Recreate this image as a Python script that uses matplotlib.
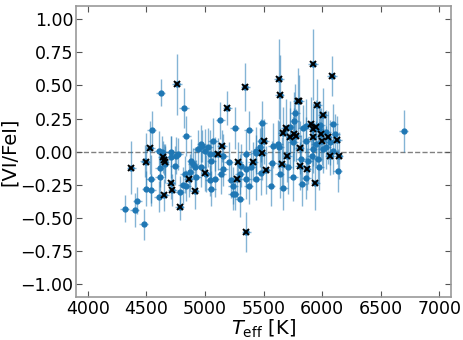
import numpy as np
import matplotlib
matplotlib.use('Agg')
import matplotlib.pyplot as plt

# stars without flag: Teff, [VI/FeI], error
teff_all = [4315, 4400, 4423, 4477, 4500, 4543, 4537, 4545, 4486, 4605,
            4614, 4614, 4608, 4622, 4636, 4656, 4707, 4713, 4741, 4750,
            4770, 4784, 4812, 4821, 4826, 4841, 4841, 4869, 4883, 4898,
            4912, 4926, 4940, 4969, 4969, 4975, 4997, 5011, 5026, 5040,
            5040, 5054, 5054, 5068, 5082, 5082, 5130, 5139, 5153, 5153,
            5201, 5224, 5239, 5239, 5253, 5253, 5296, 5296, 5310, 5352,
            5352, 5352, 5372, 5372, 5395, 5432, 5438, 5438, 5466, 5474,
            5480, 5489, 5560, 5574, 5579, 5622, 5631, 5637, 5670, 5707,
            5722, 5750, 5750, 5764, 5767, 5821, 5830, 5835, 5864, 5864,
            5864, 5878, 5914, 5920, 5949, 5963, 5977, 5977, 5986, 6005,
            6034, 6034, 6063, 6097, 6097, 6111, 6133, 6696]
vfe_all = [-0.43, -0.44, -0.37, -0.55, -0.28, -0.29, -0.205, 0.16, -0.07, -0.34,
           -0.19, -0.12, 0.008, 0.446, -0.005, -0.09, -0.005, -0.04, -0.105, -0.03,
           -0.02, -0.306, -0.255, 0.328, -0.17, 0.12, -0.256, -0.155, -0.068, -0.09,
           -0.118, -0.19, 0.02, 0.058, -0.118, 0.04, 0.008, -0.168, 0.032, -0.017,
           -0.218, -0.068, -0.28, 0.083, -0.017, -0.205, 0.238, -0.168, -0.03, -0.13,
           -0.08, -0.218, -0.256, -0.323, 0.178, -0.318, -0.356, -0.168, -0.105, -0.017,
           -0.205, -0.13, 0.16, -0.256, -0.118, -0.013, 0.008, -0.205, 0.032, -0.16,
           0.083, 0.22, -0.26, -0.083, 0.045, 0.058, 0.032, -0.168, -0.273, -0.118,
           0.183, 0.07, -0.193, 0.233, 0.29, -0.055, -0.243, 0.175, 0.083, 0.195,
           -0.2, -0.068, -0.03, 0.02, 0.058, -0.055, 0.17, -0.118, 0.2, 0.02,
           0.145, 0.032, 0.07, 0.208, 0.008, 0.133, -0.143, 0.158]
err_all = [0.10, 0.13, 0.10, 0.12, 0.13, 0.12, 0.18, 0.15, 0.12, 0.12,
           0.13, 0.15, 0.15, 0.10, 0.12, 0.15, 0.12, 0.16, 0.15, 0.14,
           0.12, 0.12, 0.14, 0.15, 0.14, 0.15, 0.12, 0.14, 0.16, 0.12,
           0.15, 0.13, 0.14, 0.14, 0.15, 0.12, 0.16, 0.14, 0.15, 0.18,
           0.12, 0.14, 0.13, 0.17, 0.13, 0.14, 0.14, 0.15, 0.16, 0.13,
           0.15, 0.13, 0.14, 0.12, 0.16, 0.12, 0.14, 0.15, 0.16, 0.17,
           0.15, 0.14, 0.15, 0.14, 0.13, 0.14, 0.18, 0.16, 0.15, 0.17,
           0.16, 0.16, 0.15, 0.16, 0.17, 0.18, 0.20, 0.18, 0.17, 0.20,
           0.20, 0.20, 0.18, 0.22, 0.22, 0.18, 0.17, 0.18, 0.18, 0.20,
           0.16, 0.18, 0.20, 0.18, 0.17, 0.18, 0.20, 0.17, 0.18, 0.18,
           0.17, 0.16, 0.17, 0.15, 0.18, 0.15, 0.16, 0.16]

# flagged stars (black crosses)
teff_flag = [4372, 4494, 4534, 4642, 4656, 4650, 4707, 4721, 4650, 4784,
             4761, 4863, 4912, 5003, 5113, 5145, 5190, 5284, 5273, 5344,
             5352, 5409, 5489, 5508, 5523, 5631, 5637, 5659, 5665, 5688,
             5702, 5730, 5781, 5790, 5805, 5807, 5807, 5869, 5906, 5920,
             5920, 5921, 5941, 5958, 5992, 5995, 6006, 6048, 6063, 6083,
             6128, 6142, 5760, 5945]
vfe_flag = [-0.12, -0.08, 0.03, -0.04, -0.08, -0.06, -0.24, -0.29, -0.33, -0.42,
            0.51, -0.21, -0.30, -0.16, -0.02, 0.045, 0.33, -0.075, -0.21, 0.49,
            -0.61, -0.075, -0.013, 0.077, -0.14, 0.55, 0.43, -0.09, 0.14, 0.175,
            -0.03, 0.11, 0.12, 0.38, 0.38, 0.028, -0.11, -0.13, 0.21, 0.17,
            0.11, 0.66, -0.24, 0.35, 0.13, 0.08, 0.28, 0.11, -0.03, 0.57,
            0.09, -0.03, 0.13, 0.19]
err_flag = [0.20, 0.22, 0.20, 0.12, 0.12, 0.12, 0.12, 0.12, 0.12, 0.10,
            0.23, 0.13, 0.13, 0.14, 0.12, 0.12, 0.13, 0.15, 0.14, 0.18,
            0.15, 0.15, 0.20, 0.17, 0.18, 0.30, 0.30, 0.20, 0.20, 0.22,
            0.20, 0.22, 0.20, 0.25, 0.20, 0.20, 0.18, 0.16, 0.20, 0.20,
            0.22, 0.27, 0.20, 0.20, 0.20, 0.18, 0.20, 0.20, 0.15, 0.15,
            0.18, 0.18, 0.20, 0.20]
teff_err = 40

fig = plt.figure(figsize=(4.64, 3.40), dpi=100)
ax = fig.add_axes([0.164, 0.126, 0.808, 0.856])

t = np.array(teff_all + teff_flag)
v = np.array(vfe_all + vfe_flag)
e = np.array(err_all + err_flag)

ax.errorbar(t, v, yerr=e, xerr=teff_err, fmt='none', ecolor='#1f77b4',
            alpha=0.55, elinewidth=1.0, zorder=2)
ax.plot(t, v, 'o', color='#1f77b4', ms=3.5, zorder=3)
ax.plot(teff_flag, vfe_flag, 'x', color='k', ms=5, mew=1.4, zorder=4)

ax.axhline(0, color='grey', ls='--', lw=1, zorder=1)

ax.set_xlim(3900, 7100)
ax.set_ylim(-1.1, 1.1)
ax.set_xticks([4000, 4500, 5000, 5500, 6000, 6500, 7000])
ax.set_yticks([-1.0, -0.75, -0.5, -0.25, 0.0, 0.25, 0.5, 0.75, 1.0])
ax.tick_params(direction='in', top=True, right=True, labelsize=12.5,
               length=4, color='#555555', pad=2)
for s in ax.spines.values():
    s.set_color('#999999')
    s.set_linewidth(1.2)
ax.set_xlabel(r'$T_{\rm eff}$ [K]', fontsize=14, labelpad=0)
ax.set_ylabel('[VI/FeI]', fontsize=14, labelpad=1)

fig.savefig('out.png', dpi=100)
